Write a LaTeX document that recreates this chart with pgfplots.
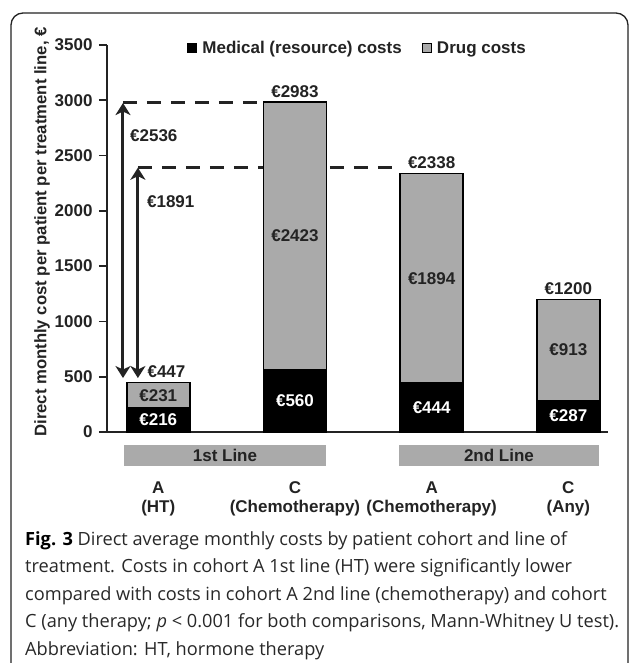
\documentclass[border=0pt]{standalone}
\usepackage{fontspec}
\setmainfont{Liberation Sans}
\newfontfamily\capfont{Open Sans}
\usepackage{pgfplots}
\pgfplotsset{compat=1.18}
\usetikzlibrary{arrows.meta}
\definecolor{barg}{RGB}{170,170,170}
\definecolor{dk}{RGB}{35,35,35}
\definecolor{capc}{RGB}{40,40,40}
\newcommand{\lf}{\fontsize{17}{19.5}\selectfont\bfseries}
\begin{document}
\begin{tikzpicture}[x=1pt,y=1pt]
\begin{axis}[
  name=ax,
  scale only axis, width=501pt, height=387pt,
  xmin=-0.375, xmax=3.29, ymin=0, ymax=3500,
  axis x line*=bottom, axis y line*=left,
  axis line style={line width=1.6pt, dk, -},
  ytick={0,500,...,3500},
  tick align=outside,
  major tick length=8pt,
  y tick style={line width=1.6pt, dk},
  xtick={0,1,2,3},
  xticklabels={{A\\(HT)},{C\\(Chemotherapy)},{A\\(Chemotherapy)},{C\\(Any)}},
  x tick style={draw=none},
  xticklabel style={align=center, font=\lf, text=dk, yshift=-38pt},
  yticklabel style={font=\lf, text=dk, xshift=-3pt},
  /pgf/number format/assume math mode=true,
  /pgf/number format/set thousands separator={},
  ybar stacked, bar width=63pt,
  clip=false,
  legend columns=2,
  legend style={at={(0.5,0.992)}, anchor=center, draw=none, fill=none, font=\lf, text=dk,
    /tikz/every odd column/.append style={column sep=3pt},
    /tikz/every even column/.append style={column sep=18pt}},
]
\addplot[fill=black, draw=black, line width=1.5pt,
  legend image code/.code={\draw[fill=black, draw=black, line width=1.2pt] (0pt,-4.5pt) rectangle (9pt,4.5pt);}]
  coordinates {(0,216) (1,560) (2,444) (3,287)};
\addlegendentry{Medical (resource) costs}
\addplot[fill=barg, draw=black, line width=1.5pt,
  legend image code/.code={\draw[fill=barg, draw=black, line width=1.2pt] (0pt,-4.5pt) rectangle (9pt,4.5pt);}]
  coordinates {(0,231) (1,2423) (2,1894) (3,913)};
\addlegendentry{Drug costs}

\coordinate (O) at (rel axis cs:0,0);
\coordinate (m0) at (axis cs:0,108);
\coordinate (d0) at (axis cs:0,331.5);
\coordinate (m1) at (axis cs:1,280);
\coordinate (d1) at (axis cs:1,1771.5);
\coordinate (m2) at (axis cs:2,222);
\coordinate (d2) at (axis cs:2,1391);
\coordinate (m3) at (axis cs:3,143.5);
\coordinate (d3) at (axis cs:3,743.5);
% dashed reference lines
\draw[line width=3pt, dk, dash pattern=on 14pt off 10pt] (axis cs:-0.258,2983) -- (axis cs:0.77,2983);
\draw[line width=3pt, dk, dash pattern=on 14pt off 10pt] (axis cs:-0.149,2395) -- (axis cs:1.77,2395);
% arrows
\draw[line width=3pt, dk, {Stealth[length=12pt,width=15pt,inset=3.5pt]}-{Stealth[length=12pt,width=15pt,inset=3.5pt]}] (axis cs:-0.258,2975) -- (axis cs:-0.258,488);
\draw[line width=3pt, dk, {Stealth[length=12pt,width=15pt,inset=3.5pt]}-{Stealth[length=12pt,width=15pt,inset=3.5pt]}] (axis cs:-0.149,2390) -- (axis cs:-0.149,488);
% totals
\node[font=\lf, text=dk, anchor=base, inner sep=0, yshift=5pt] at (axis cs:0.06,447) {€447};
\node[font=\lf, text=dk, anchor=base, inner sep=0, yshift=5pt] at (axis cs:1,2983) {€2983};
\node[font=\lf, text=dk, anchor=base, inner sep=0, yshift=5pt] at (axis cs:2,2338) {€2338};
\node[font=\lf, text=dk, anchor=base, inner sep=0, yshift=5pt] at (axis cs:3,1200) {€1200};
\node[font=\lf, text=dk, anchor=west, inner sep=0] at (axis cs:-0.207,2677) {€2536};
\node[font=\lf, text=dk, anchor=west, inner sep=0] at (axis cs:-0.083,2080) {€1891};
% line group boxes
\node[fill=barg, font=\lf, text=dk, anchor=center, minimum width=202pt, minimum height=21pt, inner sep=0] at (axis cs:0.488,-212.5) {1st Line};
\node[fill=barg, font=\lf, text=dk, anchor=center, minimum width=200pt, minimum height=21pt, inner sep=0] at (axis cs:2.4925,-212.5) {2nd Line};
\end{axis}
% segment labels (drawn on top of the bars)
\node[font=\lf, text=white, anchor=center] at (m0) {€216};
\node[font=\lf, text=dk, anchor=center] at (d0) {€231};
\node[font=\lf, text=white, anchor=center] at (m1) {€560};
\node[font=\lf, text=dk, anchor=center] at (d1) {€2423};
\node[font=\lf, text=white, anchor=center] at (m2) {€444};
\node[font=\lf, text=dk, anchor=center] at (d2) {€1894};
\node[font=\lf, text=white, anchor=center] at (m3) {€287};
\node[font=\lf, text=dk, anchor=center] at (d3) {€913};
\path (O) ++(-107,-231) coordinate (P);
\begin{scope}[shift={(P)}]
\begin{scope}
\clip (0,0) rectangle (629,663);
\draw[line width=1.3pt, dk, rounded corners=12pt] (11,-40) rectangle (628,650);
\end{scope}
\node[rotate=90, font=\fontsize{16.7}{19}\selectfont\bfseries, text=dk, anchor=center] at (42,431) {Direct monthly cost per patient per treatment line, €};
\begin{scope}[every node/.style={anchor=base west, inner sep=0, font=\capfont\fontsize{18.2}{21}\selectfont, text=capc}]
\node at (25,118) {\textbf{\color{black}Fig. 3} Direct average monthly costs by patient cohort and line of};
\node at (25,90.5) {treatment. Costs in cohort A 1st line (HT) were significantly lower};
\node at (25,63) {compared with costs in cohort A 2nd line (chemotherapy) and cohort};
\node at (25,35.5) {C (any therapy; \textit{p} < 0.001 for both comparisons, Mann-Whitney U test).};
\node at (25,8) {Abbreviation: HT, hormone therapy};
\end{scope}
\pgfresetboundingbox
\useasboundingbox (0,0) rectangle (629,663);
\end{scope}
\end{tikzpicture}
\end{document}
